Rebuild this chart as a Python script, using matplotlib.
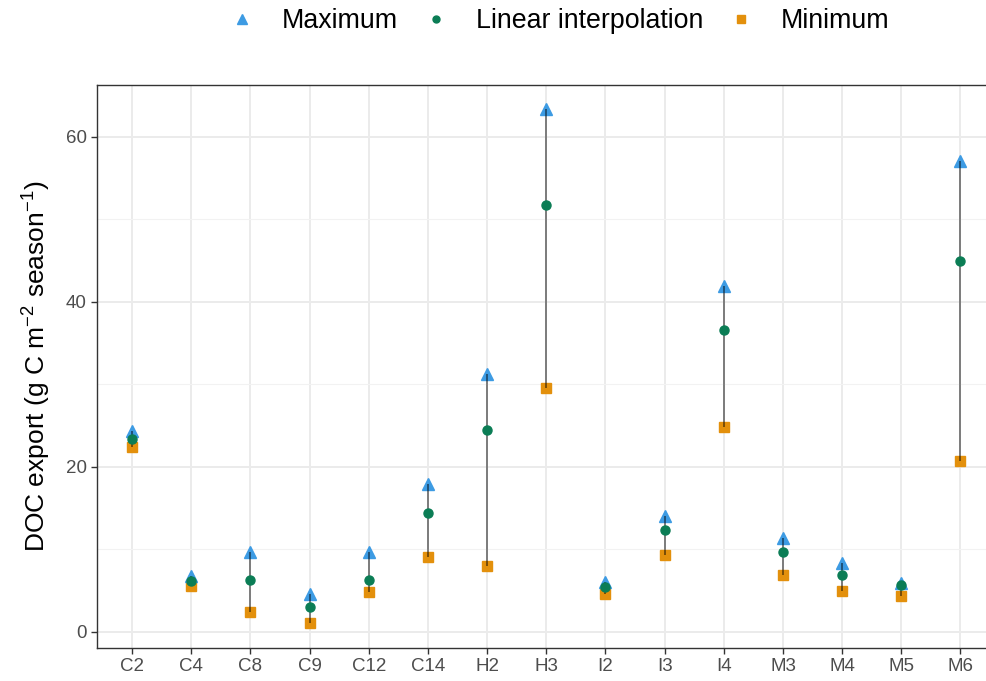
import matplotlib
matplotlib.use("Agg")
import matplotlib.pyplot as plt
from matplotlib.lines import Line2D
import numpy as np

# Sites and seasonal DOC export estimates (g C m-2 season-1)
sites = ["C2", "C4", "C8", "C9", "C12", "C14", "H2", "H3",
         "I2", "I3", "I4", "M3", "M4", "M5", "M6"]
export_max = [24.3, 6.7, 9.6, 4.6, 9.7, 17.9, 31.2, 63.4,
              6.0, 14.0, 41.9, 11.3, 8.3, 5.9, 57.1]
export_interp = [23.3, 6.1, 6.3, 3.0, 6.2, 14.4, 24.5, 51.7,
                 5.4, 12.3, 36.6, 9.7, 6.9, 5.6, 44.9]
export_min = [22.4, 5.5, 2.4, 1.0, 4.8, 9.1, 8.0, 29.6,
              4.6, 9.3, 24.8, 6.8, 4.9, 4.3, 20.7]

plt.rcParams["font.family"] = ["Liberation Sans", "DejaVu Sans"]
plt.rcParams["mathtext.fontset"] = "custom"
plt.rcParams["mathtext.rm"] = "Liberation Sans"
plt.rcParams["mathtext.it"] = "Liberation Sans:italic"

col_max = "#3d9be3"
col_interp = "#0b7d55"
col_min = "#e3900c"

fig = plt.figure(figsize=(9.87, 6.81), dpi=100)
W, H = 987, 681
ax = fig.add_axes([96.5 / W, 33 / H, (996 - 96.5) / W, (596 - 33) / H])

x = np.arange(len(sites))

# Ranges and points
ax.plot(x, export_min, linestyle="none", marker="s", ms=7, color=col_min, zorder=3)
ax.plot(x, export_max, linestyle="none", marker="^", ms=8.5, color=col_max, zorder=3)
ax.vlines(x, export_min, export_max, color="black", alpha=0.6, lw=1.1, zorder=4)
ax.plot(x, export_interp, linestyle="none", marker="o", ms=6.5, color=col_interp, zorder=5)

ax.set_xlim(-0.6, 14.6)
ax.set_ylim(-2.0, 66.3)
ax.set_xticks(x)
ax.set_xticklabels(sites)
ax.set_yticks([0, 20, 40, 60])
ax.set_yticks([10, 30, 50], minor=True)

ax.grid(True, which="major", color="#ebebeb", lw=1.4)
ax.grid(True, which="minor", axis="y", color="#f2f2f2", lw=0.8)
ax.set_axisbelow(True)
ax.tick_params(axis="both", which="major", length=4, width=1.0, color="#333333",
               labelsize=13.5, labelcolor="#4d4d4d", pad=3)
ax.tick_params(axis="y", which="minor", length=0)
for s in ax.spines.values():
    s.set_color("#333333")
    s.set_linewidth(1.0)

ax.set_ylabel(r"DOC export (g C m$^{-2}$ season$^{-1}$)", fontsize=19, labelpad=9)

handles = [
    Line2D([], [], linestyle="none", marker="^", ms=7, color=col_max),
    Line2D([], [], linestyle="none", marker="o", ms=5, color=col_interp),
    Line2D([], [], linestyle="none", marker="s", ms=5.5, color=col_min),
]
labels = ["Maximum", "Linear interpolation", "Minimum"]
fig.legend(handles, labels, loc="center", bbox_to_anchor=(559 / W, 1 - 21 / H),
           ncol=3, frameon=False, fontsize=19.3, handlelength=1.0,
           handletextpad=0.99, columnspacing=0.92)

fig.savefig("out.png", dpi=100)
